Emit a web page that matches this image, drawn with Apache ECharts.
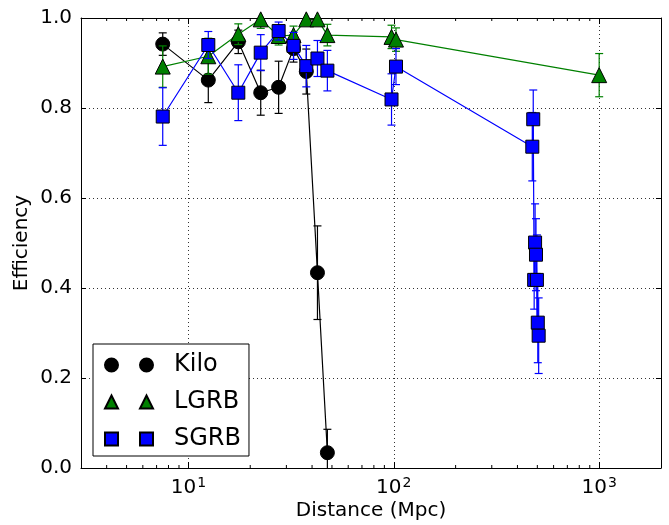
<!DOCTYPE html>
<html>
<head>
<meta charset="utf-8">
<script src="https://cdn.jsdelivr.net/npm/echarts@6/dist/echarts.min.js"></script>
<style>
html,body{margin:0;padding:0;background:#fff;}
#chart{width:669px;height:525px;}
</style>
</head>
<body>
<div id="chart"></div>
<script>
// ---- data (distance in Mpc, efficiency, symmetric error) ----
const kiloX   = [7.5, 12.5, 17.5, 22.5, 27.5, 32.5, 37.5, 42.5, 47.5];
const kiloY   = [0.942, 0.862, 0.947, 0.834, 0.846, 0.932, 0.881, 0.434, 0.034];
const kiloErr = [0.025, 0.05, 0.026, 0.05, 0.058, 0.03, 0.05, 0.104, 0.052];

const lgrbX   = [7.5, 12.5, 17.5, 22.5, 27.5, 32.5, 37.5, 42.5, 47.5, 97.5, 102.5, 1000];
const lgrbY   = [0.892, 0.915, 0.964, 0.997, 0.96, 0.962, 0.997, 0.997, 0.962, 0.958, 0.952, 0.873];
const lgrbErr = [0.046, 0.04, 0.023, 0.02, 0.02, 0.02, 0.01, 0.01, 0.024, 0.026, 0.026, 0.048];

const sgrbX   = [7.5, 12.5, 17.5, 22.5, 27.5, 32.5, 37.5, 42.5, 47.5, 97.5, 102.5,
                 472.5, 477.5, 482.5, 487.5, 492.5, 497.5, 502.5, 507.5];
const sgrbY   = [0.781, 0.94, 0.834, 0.923, 0.971, 0.938, 0.893, 0.91, 0.883, 0.819, 0.892,
                 0.714, 0.775, 0.418, 0.501, 0.474, 0.418, 0.323, 0.294];
const sgrbErr = [0.064, 0.03, 0.062, 0.04, 0.02, 0.03, 0.046, 0.04, 0.045, 0.057, 0.04,
                 0.076, 0.065, 0.065, 0.086, 0.08, 0.1, 0.089, 0.084];

const xMin = 3, xMax = 2000;

// ---- helpers ----
const FONT = 'DejaVu Sans';
function pts(xs, ys){ return xs.map((x,i)=>[x, ys[i]]); }
function errPts(xs, ys, es){ return xs.map((x,i)=>[x, ys[i], es[i]]); }
function errRender(color){
  return function(params, api){
    const x = api.value(0), y = api.value(1), e = api.value(2);
    const t = api.coord([x, y + e]);
    const b = api.coord([x, y - e]);
    const hw = 4;
    const st = {stroke: color, lineWidth: 1.2};
    return {type:'group', children:[
      {type:'line', shape:{x1:t[0], y1:t[1], x2:b[0], y2:b[1]}, style:st},
      {type:'line', shape:{x1:t[0]-hw, y1:t[1], x2:t[0]+hw, y2:t[1]}, style:st},
      {type:'line', shape:{x1:b[0]-hw, y1:b[1], x2:b[0]+hw, y2:b[1]}, style:st}
    ]};
  };
}
// minor tick positions on the log axis (2..9 x 10^k inside range)
const minorTicks = [];
for (let k = 0; k <= 3; k++) {
  for (let m = 2; m <= 9; m++) {
    const v = m * Math.pow(10, k);
    if (v > xMin && v < xMax) minorTicks.push([v]);
  }
}

const chart = echarts.init(document.getElementById('chart'), null, {renderer:'canvas'});

function logLabel(v){
  const e = Math.log10(v);
  if (Math.abs(e - Math.round(e)) < 1e-6) return '{b|10}{s|' + Math.round(e) + '}';
  return '';
}

const option = {
  animation: false,
  backgroundColor: '#fff',
  textStyle: {fontFamily: FONT, color: '#000'},
  grid: {left: 81, right: 8, top: 18, bottom: 57, show: false,
         containLabel: false, outerBoundsMode: 'none'},
  legend: {
    orient: 'vertical',
    left: 93, top: 344,
    backgroundColor: '#fff',
    borderColor: '#000', borderWidth: 1, borderRadius: 0,
    padding: [9, 8, 5, 11],
    itemWidth: 48, itemHeight: 13, itemGap: 13,
    textStyle: {fontFamily: FONT, fontSize: 24, color: '#000', padding: [0,0,0,16]},
    data: [
      {name:'Kilo', icon:'path://M0,6.5a6.5,6.5 0 1,0 13,0a6.5,6.5 0 1,0 -13,0zM35,6.5a6.5,6.5 0 1,0 13,0a6.5,6.5 0 1,0 -13,0z'},
      {name:'LGRB', icon:'path://M6.5,0L13,13L0,13zM41.5,0L48,13L35,13z'},
      {name:'SGRB', icon:'path://M0,0H13V13H0zM35,0H48V13H35z'}
    ]
  },
  xAxis: [
    {
      type: 'log', logBase: 10, min: xMin, max: xMax,
      name: 'Distance (Mpc)', nameLocation: 'middle', nameGap: 33, nameMoveOverlap: false,
      nameTextStyle: {fontFamily: FONT, fontSize: 20, color: '#000'},
      axisLine: {show: true, onZero: false, lineStyle: {color: '#000', width: 1}},
      axisTick: {show: true, inside: true, length: 6, lineStyle: {color: '#000'}},
      minorTick: {show: false},
      axisLabel: {
        margin: 8, formatter: logLabel, color: '#000',
        rich: {
          b: {fontFamily: FONT, fontSize: 20, color: '#000'},
          s: {fontFamily: FONT, fontSize: 14, color: '#000', verticalAlign: 'top', padding: [0,0,10,1]}
        }
      },
      splitLine: {show: true, lineStyle: {color: '#333', type: [1, 3], width: 1}}
    },
    {
      type: 'log', logBase: 10, min: xMin, max: xMax, position: 'top',
      axisLine: {show: true, onZero: false, lineStyle: {color: '#000', width: 1}},
      axisTick: {show: true, inside: true, length: 6, lineStyle: {color: '#000'}},
      axisLabel: {show: false},
      splitLine: {show: false}
    }
  ],
  yAxis: [
    {
      type: 'value', min: 0, max: 1, interval: 0.2,
      name: 'Efficiency', nameLocation: 'middle', nameGap: 49, nameRotate: 90, nameMoveOverlap: false,
      nameTextStyle: {fontFamily: FONT, fontSize: 20, color: '#000'},
      axisLine: {show: true, lineStyle: {color: '#000', width: 1}},
      axisTick: {show: true, inside: true, length: 5, lineStyle: {color: '#000'}},
      axisLabel: {margin: 9, fontFamily: FONT, fontSize: 20, color: '#000',
                  formatter: v => v.toFixed(1)},
      splitLine: {show: true, lineStyle: {color: '#333', type: [1, 3], width: 1}}
    },
    {
      type: 'value', min: 0, max: 1, interval: 0.2, position: 'right',
      axisLine: {show: true, lineStyle: {color: '#000', width: 1}},
      axisTick: {show: true, inside: true, length: 5, lineStyle: {color: '#000'}},
      axisLabel: {show: false},
      splitLine: {show: false}
    }
  ],
  series: [
    {type:'custom', name:'KiloErr', renderItem: errRender('#000'), clip: true,
     data: errPts(kiloX, kiloY, kiloErr), z: 2, silent: true},
    {type:'line', name:'Kilo', data: pts(kiloX, kiloY), z: 3, clip: true,
     symbol:'circle', symbolSize: 14, showAllSymbol: true,
     itemStyle:{color:'#000', borderColor:'#000', borderWidth:1},
     lineStyle:{color:'#000', width:1.2}},
    {type:'custom', name:'LGRBErr', renderItem: errRender('#008000'), clip: true,
     data: errPts(lgrbX, lgrbY, lgrbErr), z: 4, silent: true},
    {type:'line', name:'LGRB', data: pts(lgrbX, lgrbY), z: 5, clip: true,
     symbol:'triangle', symbolSize: 15, showAllSymbol: true,
     itemStyle:{color:'#008000', borderColor:'#000', borderWidth:1},
     lineStyle:{color:'#008000', width:1.2}},
    {type:'custom', name:'SGRBErr', renderItem: errRender('#0000ff'), clip: true,
     data: errPts(sgrbX, sgrbY, sgrbErr), z: 6, silent: true},
    {type:'line', name:'SGRB', data: pts(sgrbX, sgrbY), z: 7, clip: true,
     symbol:'rect', symbolSize: 13, showAllSymbol: true,
     itemStyle:{color:'#0000ff', borderColor:'#000', borderWidth:1},
     lineStyle:{color:'#0000ff', width:1.2}},
    {type:'custom', name:'minorTicks', silent: true, z: 10,
     data: minorTicks,
     renderItem: function(params, api){
       const b = api.coord([api.value(0), 0]);
       const t = api.coord([api.value(0), 1]);
       const st = {stroke:'#000', lineWidth:1};
       return {type:'group', children:[
         {type:'line', shape:{x1:b[0], y1:b[1], x2:b[0], y2:b[1]-3}, style:st},
         {type:'line', shape:{x1:t[0], y1:t[1], x2:t[0], y2:t[1]+3}, style:st}
       ]};
     }}
  ]
};
chart.setOption(option);
</script>
</body>
</html>
